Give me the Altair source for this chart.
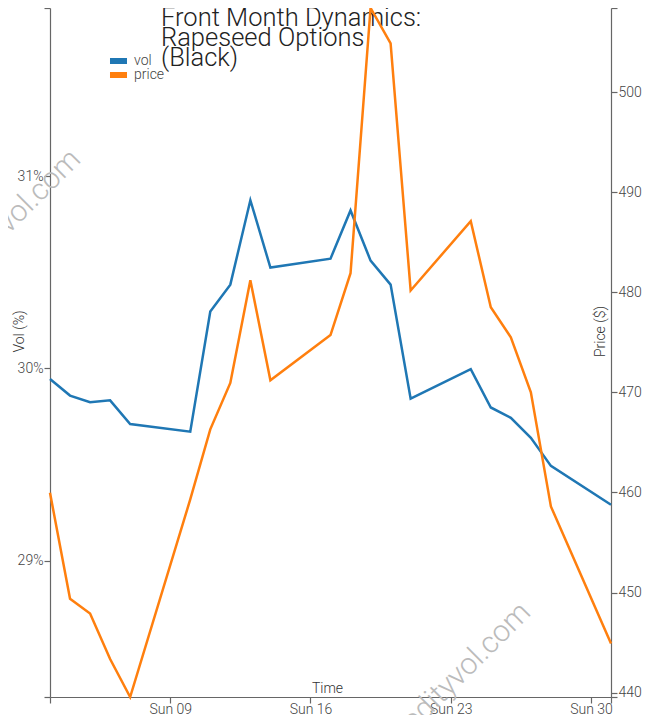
import altair as alt
import pandas as pd

# ---- data ----
dates = ["2024-06-03", "2024-06-04", "2024-06-05", "2024-06-06", "2024-06-07",
         "2024-06-10", "2024-06-11", "2024-06-12", "2024-06-13", "2024-06-14",
         "2024-06-17", "2024-06-18", "2024-06-19", "2024-06-20", "2024-06-21",
         "2024-06-24", "2024-06-25", "2024-06-26", "2024-06-27", "2024-06-28",
         "2024-07-01"]
vol = [29.945, 29.859, 29.824, 29.834, 29.711,
       29.671, 30.296, 30.436, 30.875, 30.525,
       30.571, 30.822, 30.561, 30.436, 29.843,
       29.996, 29.797, 29.743, 29.639, 29.493,
       29.291]
price = [459.96, 449.38, 447.90, 443.35, 439.56,
         459.30, 466.30, 470.94, 481.20, 471.20,
         475.72, 481.90, 508.40, 504.87, 480.18,
         487.10, 478.50, 475.50, 470.00, 458.60,
         444.90]
series = ["vol", "price"]
series_colors = ["#1f77b4", "#ff7f0e"]
vol_ticks = [29, 30, 31]
price_ticks = [440, 450, 460, 470, 480, 490, 500]
sunday_ticks = [9, 16, 23, 30]
title_text = "Front Month Dynamics:\nRapeseed Options\n(Black)"
watermark = "commodityvol.com"

FONT = "Roboto"
df = pd.DataFrame({"date": [d + "T00:00:00" for d in dates], "vol": vol, "price": price})

vol_domain = [min(vol) - 1, max(vol) + 1]
price_domain = [min(price), max(price)]

color_scale = alt.Scale(domain=series, range=series_colors)
legend = alt.Legend(title=None, orient="none", legendX=61.5, legendY=46,
                    symbolType="M-2.43,-0.5H2.43M-2.43,0H2.43M-2.43,0.5H2.43",
                    symbolSize=49, symbolStrokeWidth=2.5,
                    labelFont=FONT, labelFontSize=14, labelFontWeight=300,
                    labelColor="#444", labelOffset=8.5, rowPadding=0)

# D3-style outer ticks: domain ends get a tick without a label
x_tick_values = ([alt.DateTime(year=2024, month=6, date=3)]
                 + [alt.DateTime(year=2024, month=6, date=d) for d in sunday_ticks]
                 + [alt.DateTime(year=2024, month=7, date=1)])
x_enc = alt.X("date:T", scale=alt.Scale(nice=False),
              axis=alt.Axis(values=x_tick_values,
                            labelExpr="day(datum.value) === 0 ? timeFormat(datum.value, '%a %d') : ''",
                            title="Time", titleX=277, titleY=-5,
                            titleBaseline="alphabetic", titleAlign="center",
                            labelBaseline="alphabetic", labelPadding=10))

base = alt.Chart(df)

vol_line = base.transform_calculate(series="'vol'").mark_line(strokeWidth=2.5).encode(
    x=x_enc,
    y=alt.Y("vol:Q",
            scale=alt.Scale(domain=vol_domain, nice=False, zero=False),
            axis=alt.Axis(orient="left", values=[vol_domain[0]] + vol_ticks + [vol_domain[1]],
                          labelExpr="datum.value % 1 === 0 ? datum.value + '%' : ''",
                          labelPadding=1,
                          title="Vol (%)", titleX=-31, titleY=323, titleAngle=270,
                          titleAlign="center", titleBaseline="middle")),
    color=alt.Color("series:N", scale=color_scale, legend=legend),
)

price_line = base.transform_calculate(series="'price'").mark_line(strokeWidth=2.5).encode(
    x=x_enc,
    y=alt.Y("price:Q",
            scale=alt.Scale(domain=price_domain, nice=False, zero=False),
            axis=alt.Axis(orient="right", values=[price_domain[0]] + price_ticks + [price_domain[1]],
                          labelExpr="datum.value % 10 === 0 ? datum.value : ''",
                          labelPadding=1,
                          title="Price ($)", titleX=-11, titleY=323, titleAngle=270,
                          titleAlign="center", titleBaseline="middle")),
    color=alt.Color("series:N", scale=color_scale, legend=legend),
)

title_layer = alt.Chart(pd.DataFrame({"t": [title_text]})).mark_text(
    align="left", baseline="alphabetic", font=FONT, fontSize=25.5, fontWeight=300,
    lineHeight=20, lineBreak="\n", color="#222"
).encode(x=alt.value(111), y=alt.value(18), text="t:N")

wm_df = pd.DataFrame({"t": [watermark]})
wm1 = alt.Chart(wm_df).mark_text(
    align="right", baseline="alphabetic", font=FONT, fontSize=30, fontWeight=300,
    angle=315, color="#bbbbbb"
).encode(x=alt.value(32), y=alt.value(153), text="t:N")
wm2 = alt.Chart(wm_df).mark_text(
    align="right", baseline="alphabetic", font=FONT, fontSize=30, fontWeight=300,
    angle=315, color="#bbbbbb"
).encode(x=alt.value(482), y=alt.value(606), text="t:N")

chart = alt.layer(wm1, wm2, title_layer, vol_line, price_line).resolve_scale(
    y="independent"
).properties(
    width=561, height=689,
    autosize=alt.AutoSizeParams(type="none"),
    padding={"left": 42, "top": 0, "right": 34, "bottom": 18},
).configure_view(stroke=None).configure_axis(
    grid=False, domainColor="#666", tickColor="#666", domainWidth=1.2, tickWidth=1.2,
    tickSize=6, labelFont=FONT, labelFontSize=14, labelFontWeight=300,
    labelColor="#444", titleFont=FONT, titleFontSize=14, titleFontWeight=300,
    titleColor="#333", titlePadding=0
)

chart.save("out.html", embed_options={"renderer": "svg", "actions": False})
